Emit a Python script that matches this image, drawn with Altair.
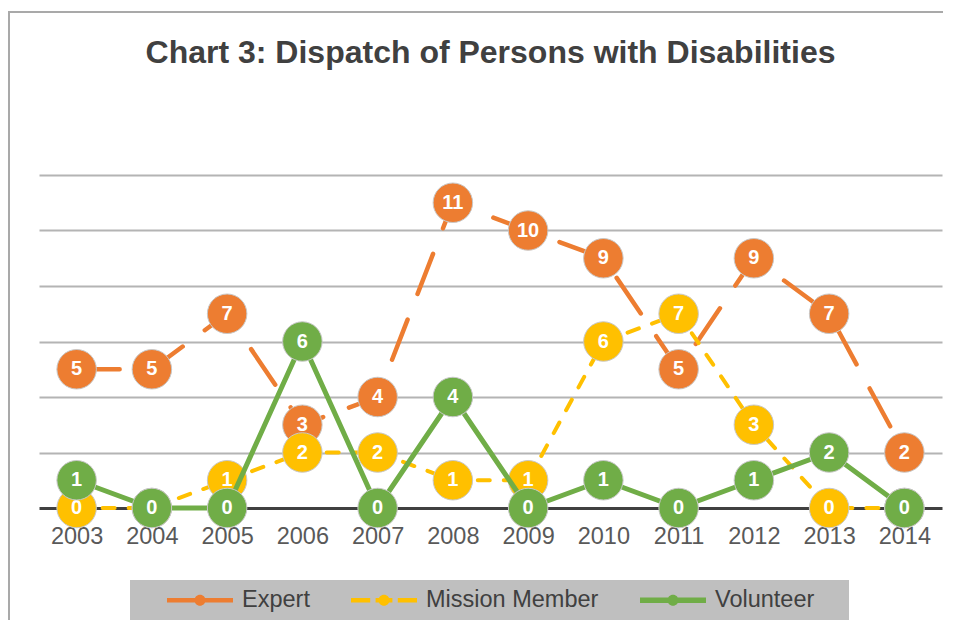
import altair as alt
import pandas as pd

# ---- data ----
years = [str(y) for y in range(2003, 2015)]
series_names = ["Expert", "Mission Member", "Volunteer"]
expert = [5, 5, 7, 3, 4, 11, 10, 9, 5, 9, 7, 2]
mission = [0, 0, 1, 2, 2, 1, 1, 6, 7, 3, 0, 0]
volunteer = [1, 0, 0, 6, 0, 4, 0, 1, 0, 1, 2, 0]
colors = ["#ED7D31", "#FFC000", "#70AD47"]
grid_values = [2, 4, 6, 8, 10, 12]

rows = []
for name, vals in zip(series_names, [expert, mission, volunteer]):
    for yr, v in zip(years, vals):
        rows.append({"year": yr, "series": name, "value": v})
df = pd.DataFrame(rows)

FONT = "Liberation Sans"

x_enc = alt.X(
    "year:O",
    sort=years,
    scale=alt.Scale(domain=years),
    axis=alt.Axis(
        title=None, ticks=False, labelAngle=0, labelFontSize=23.5,
        labelColor="#595959", labelFont=FONT, labelPadding=16,
        domainColor="#404040", domainWidth=3, grid=False,
    ),
)
y_enc = alt.Y(
    "value:Q",
    scale=alt.Scale(domain=[0, 12], nice=False, zero=True),
    axis=alt.Axis(
        title=None, values=grid_values, labels=False, ticks=False, domain=False,
        grid=True, gridColor="#b4b4b4", gridWidth=2,
    ),
)

# ---- custom legend symbols (line + marker) ----
def bar(x0, x1, h=0.19):
    return f"M{x0},{-h}H{x1}V{h}H{x0}Z"

def circ(r=0.46):
    return f"M{-r},0A{r},{r} 0 1,1 {r},0A{r},{r} 0 1,1 {-r},0Z"

paths = [
    bar(-2.75, -0.3) + bar(0.3, 2.75) + circ(),
    bar(-2.75, -1.15) + bar(-0.7, 0.7) + bar(1.15, 2.75) + circ(),
    bar(-2.75, -0.3, 0.22) + bar(0.3, 2.75, 0.22) + circ(),
]

NB = "\u00a0"
PAD = NB * 4 + "\u200b"
legend_kw = dict(
    title=NB, titleOrient="left", titleFontSize=10, titlePadding=50,
    orient="none", legendX=91, legendY=405, direction="horizontal",
    fillColor="#bfbfbf", padding=8, labelFont=FONT, labelFontSize=23.5,
    labelColor="#404040", labelOffset=30, columnPadding=41, labelLimit=400,
    symbolSize=576, symbolOpacity=1, symbolStrokeWidth=0,
    labelExpr=f"datum.label == 'Volunteer' ? datum.label + '{PAD}' : datum.label",
)

frame_df = pd.DataFrame({"k": [0]})
frame_top = alt.Chart(frame_df).mark_rule(color="#a9a9a9", strokeWidth=2).encode(
    x=alt.value(-30), x2=alt.value(904), y=alt.value(-163)
)
frame_left = alt.Chart(frame_df).mark_rule(color="#a9a9a9", strokeWidth=2).encode(
    x=alt.value(-30), y=alt.value(-164), y2=alt.value(445)
)

layers = [frame_top, frame_left]
styles = {
    "Expert": dict(strokeWidth=4.5, strokeDash=[43, 27.5]),
    "Mission Member": dict(strokeWidth=4, strokeDash=[12, 14]),
    "Volunteer": dict(strokeWidth=5),
}
for name, c in zip(series_names, colors):
    base = alt.Chart(df).transform_filter(alt.datum.series == name)
    line = base.mark_line(color=c, strokeCap="round", strokeJoin="round",
                          **styles[name]).encode(x=x_enc, y=y_enc)
    dots = base.mark_circle(size=1560, color=c, opacity=1, stroke="#c8c8c8",
                            strokeWidth=1).encode(x=x_enc, y=y_enc)
    labels = base.mark_text(color="white", fontSize=20, fontWeight="bold",
                            font=FONT, baseline="middle", align="center").encode(
        x=x_enc, y=y_enc, text="value:Q")
    layers += [line, dots, labels]

legend_layer = alt.Chart(df).mark_point(filled=True, opacity=0, size=576).encode(
    x=x_enc, y=y_enc,
    fill=alt.Fill("series:N", scale=alt.Scale(domain=series_names, range=colors),
                  legend=alt.Legend(**legend_kw)),
    shape=alt.Shape("series:N", scale=alt.Scale(domain=series_names, range=paths),
                    legend=alt.Legend(**legend_kw)),
)
layers.append(legend_layer)

chart = alt.layer(*layers).properties(
    width=903, height=333,
    autosize=alt.AutoSizeParams(type="none"),
    padding={"left": 31, "top": 167, "right": 1, "bottom": 112},
    background="white",
    title=alt.TitleParams(
        "Chart 3: Dispatch of Persons with Disabilities", fontSize=32, font=FONT,
        fontWeight="bold", color="#404040", anchor="middle", frame="group", offset=-60,
    ),
).configure_view(strokeWidth=0)

chart.save("out.html", embed_options={"renderer": "svg", "actions": False})
